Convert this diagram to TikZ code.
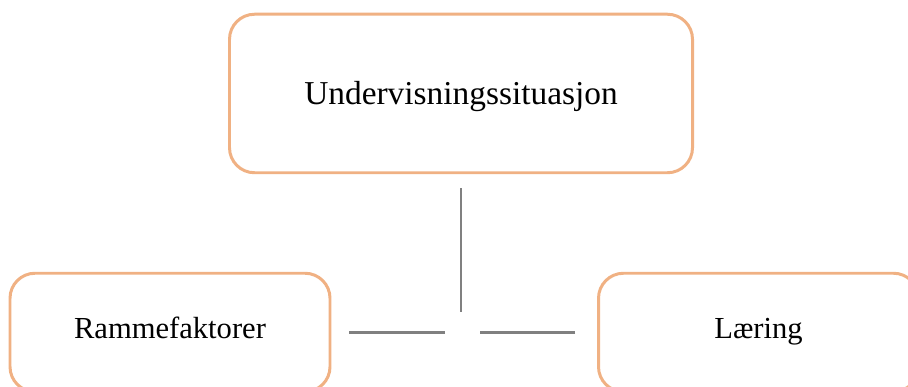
\documentclass[tikz,border=0pt]{standalone}
\usepackage{fontspec}
\setmainfont{Liberation Serif}
\definecolor{boxorange}{RGB}{240,177,131}
\definecolor{linegray}{RGB}{128,128,128}
\tikzset{
  roundbox/.style={draw=boxorange, line width=1.7pt, rounded corners=0.5cm,
    fill=white, text height=0.65em, text depth=0pt},
  link/.style={draw=linegray, line width=1.3pt}
}
\begin{document}
\begin{tikzpicture}
  \useasboundingbox (0, 0) rectangle (18.16, 7.74);
  \clip (0, 0) rectangle (18.16, 7.74);

\node [roundbox, minimum width=9.26cm, minimum height=3.17cm, text height=1.2em,
  font=\fontsize{19}{23}\selectfont] (situasjon) at (9.22, 5.87) {Undervisningssituasjon};
\node [roundbox, minimum width=6.4cm, minimum height=2.37cm,
  font=\fontsize{17.4}{21}\selectfont] (rammer) at (3.4, 1.09) {Rammefaktorer};
\node [roundbox, minimum width=6.4cm, minimum height=2.37cm,
  font=\fontsize{17.4}{21}\selectfont] (laering) at (15.17, 1.09) {Læring};

\coordinate (midt) at (situasjon.south |- rammer.east);

\draw [link, shorten <=0.28cm, shorten >=0.4cm] (situasjon.south) -- (midt);
\draw [link, shorten <=0.36cm, shorten >=0.32cm] (rammer.east) -- (midt);
\draw [link, shorten <=0.44cm, shorten >=0.37cm] (laering.west) -- (midt);
\end{tikzpicture}
\end{document}
